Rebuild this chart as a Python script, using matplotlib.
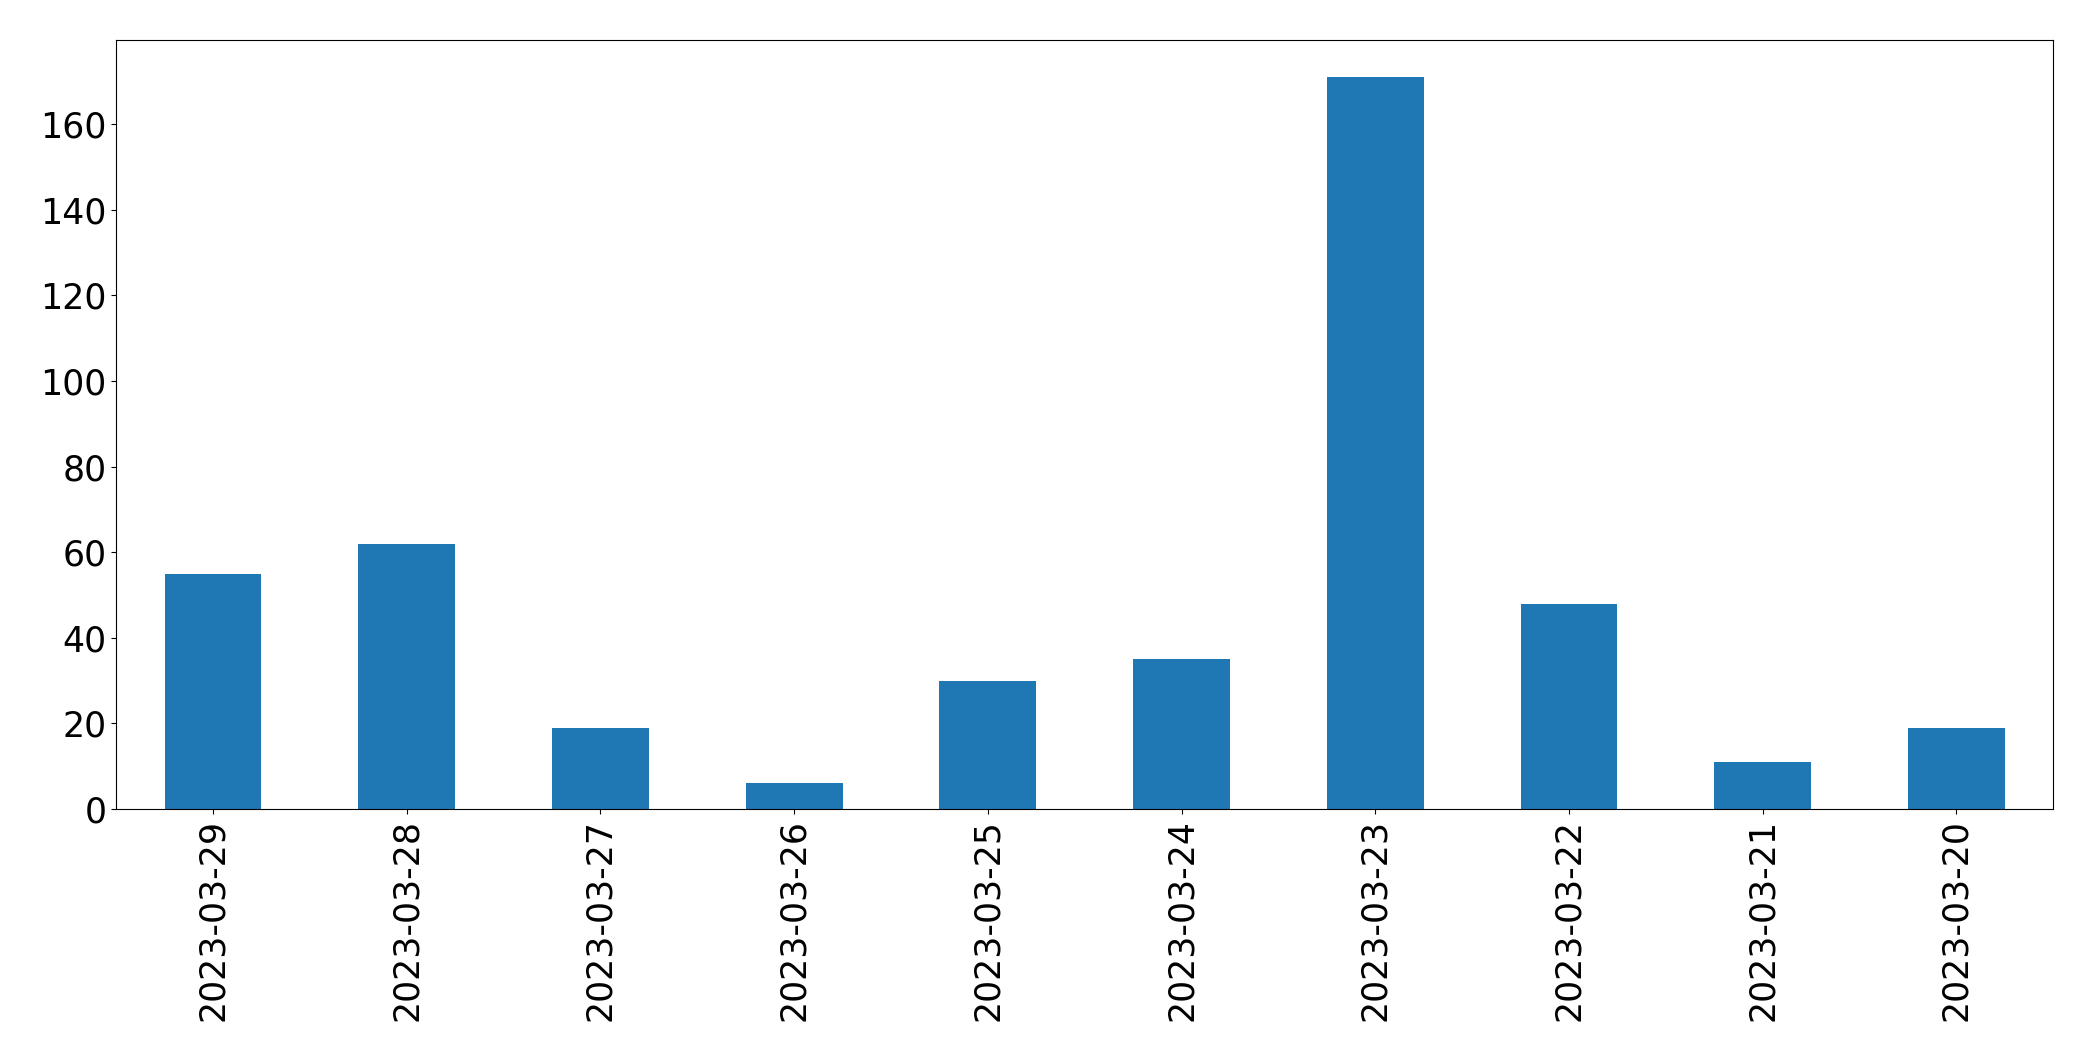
import pandas as pd
import matplotlib
matplotlib.use("Agg")
import matplotlib.pyplot as plt

dates = ["2023-03-29", "2023-03-28", "2023-03-27", "2023-03-26", "2023-03-25",
         "2023-03-24", "2023-03-23", "2023-03-22", "2023-03-21", "2023-03-20"]
counts = [55, 62, 19, 6, 30, 35, 171, 48, 11, 19]

s = pd.Series(counts, index=dates)

fig = plt.figure(figsize=(20.93, 10.61), dpi=100)
ax = fig.add_axes([0.0555, 0.2375, 0.9255, 0.7245])
s.plot.bar(ax=ax, color="#1f77b4", fontsize=25)
ax.set_xlabel("")

fig.savefig("out.png", dpi=100)
